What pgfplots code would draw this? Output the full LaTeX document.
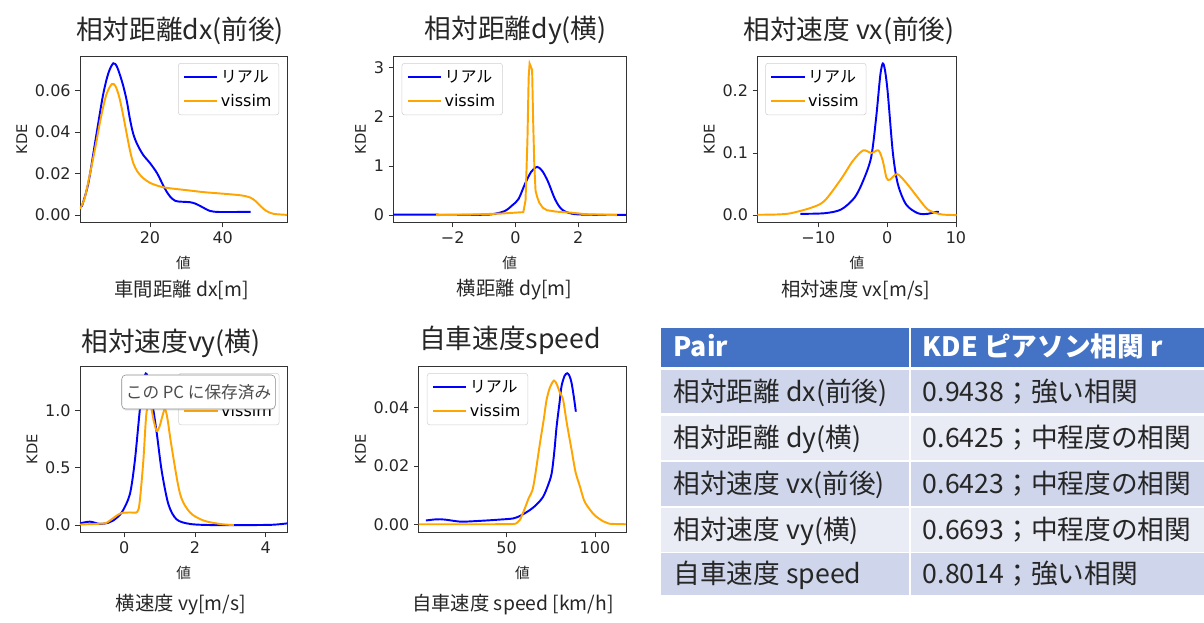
\documentclass[border=0pt]{standalone}
\usepackage{fontspec}
\setmainfont{DejaVu Sans}
\newfontfamily\jp{Noto Sans CJK JP}
\usepackage{pgfplots}
\pgfplotsset{compat=1.18}
\usetikzlibrary{shadows}
\definecolor{mplorange}{HTML}{FFA500}
\definecolor{mplblue}{HTML}{0000FF}
\definecolor{hdr}{HTML}{4472C4}
\definecolor{rowA}{HTML}{CFD5EA}
\definecolor{rowB}{HTML}{E9EBF5}
\definecolor{txt}{HTML}{262626}
\pgfplotsset{
  kde/.style={
    scale only axis, anchor=north west,
    axis line style={black!80, line width=0.6pt},
    tick align=outside, xtick pos=bottom, ytick pos=left,
    major tick length=3.5pt,
    scaled y ticks=false, scaled x ticks=false,
    every tick/.style={black!80, line width=0.6pt},
    ticklabel style={font=\fontsize{12}{14}\selectfont, text=txt},
    /pgf/number format/assume math mode=true,
    xlabel={\jp 値}, ylabel={KDE},
    label style={font=\fontsize{11}{13}\selectfont, text=txt},
    xlabel style={yshift=-2pt},
    ylabel style={yshift=-1pt},
    legend style={font=\fontsize{12}{14}\selectfont, draw=black!18, rounded corners=2pt,
      fill=white, fill opacity=0.8, text opacity=1, inner xsep=3.5pt, inner ysep=3pt,
      row sep=3.5pt},
    legend cell align=left,
    legend image code/.code={\draw[##1] (0pt,0pt) -- (25pt,0pt);},
  },
  bl/.style={mplblue, line width=1.45pt, no markers, smooth, tension=0.5},
  or/.style={mplorange, line width=1.45pt, no markers, smooth, tension=0.5},
}
\begin{document}
\begin{tikzpicture}
\path[use as bounding box] (0pt,0pt) rectangle (903pt,-466.5pt);

% ---------- Plot 1: dx
\begin{axis}[kde, at={(60pt,-42pt)}, width=155.25pt, height=125pt,
  xmin=0.74, xmax=57.7, ymin=-0.00365, ymax=0.0765,
  xtick={20,40}, xticklabels={20,40},
  ytick={0,0.02,0.04,0.06}, yticklabels={0.00,0.02,0.04,0.06},
  legend style={at={(0.962,0.958)}, anchor=north east}]
\addplot[bl] coordinates {(1.2,0.004)(3,0.015)(5,0.036)(7,0.057)(8.5,0.068)(9.9,0.073)(11,0.071)(12.5,0.063)(13.6,0.055)(14.5,0.046)(15.4,0.039)(16.5,0.034)(18.1,0.029)(20,0.025)(22,0.020)(24,0.013)(25.5,0.009)(27,0.0068)(29,0.0064)(31,0.0062)(32.5,0.0055)(34,0.0042)(36.5,0.002)(39,0.0015)(44,0.0015)(47.7,0.0015)};
\addlegendentry{\jp リアル}
\addplot[or] coordinates {(0.74,0.003)(2,0.008)(3.5,0.02)(5,0.033)(6.5,0.047)(8,0.058)(9.5,0.063)(10.5,0.062)(11.5,0.057)(12.5,0.049)(13.6,0.039)(14.5,0.031)(15.4,0.025)(16.5,0.021)(18,0.018)(20,0.0155)(22.7,0.0138)(25,0.013)(30,0.012)(35,0.011)(40,0.0103)(45,0.0095)(47.5,0.0085)(49,0.0068)(50.5,0.0042)(52,0.002)(54,0.0006)(57.7,0.0001)};
\addlegendentry{vissim}
\end{axis}

% ---------- Plot 2: dy
\begin{axis}[kde, at={(295pt,-42pt)}, width=174.5pt, height=125pt,
  xmin=-3.89, xmax=3.52, ymin=-0.154, ymax=3.234,
  xtick={-2,0,2}, xticklabels={−2,0,2},
  ytick={0,1,2,3}, yticklabels={0,1,2,3},
  legend style={at={(0.036,0.958)}, anchor=north west}]
\addplot[bl] coordinates {(-3.89,0.01)(-3,0.01)(-2,0.006)(-1.2,0.006)(-0.77,0.015)(-0.35,0.08)(-0.1,0.2)(0.1,0.33)(0.3,0.63)(0.5,0.88)(0.69,0.98)(0.85,0.9)(1.03,0.69)(1.24,0.35)(1.4,0.17)(1.56,0.08)(1.88,0.02)(2.5,0.006)(3.52,0.006)};
\addlegendentry{\jp リアル}
\addplot[mplorange, line width=1.45pt, no markers] coordinates {(-2.53,0.0)(-1.5,0.01)(-1,0.02)(-0.5,0.03)(0,0.05)(0.25,0.06)(0.32,0.3)(0.38,1.5)(0.42,2.8)(0.45,3.08)(0.5,3.0)(0.53,2.95)(0.56,2.0)(0.6,1.0)(0.64,0.49)(0.7,0.35)(0.76,0.25)(0.87,0.15)(1.0,0.1)(1.3,0.07)(1.77,0.05)(2.2,0.02)(2.7,0.01)(3.24,0.0)};
\addlegendentry{vissim}
\end{axis}

% ---------- Plot 3: vx
\begin{axis}[kde, at={(568pt,-42pt)}, width=149.5pt, height=125pt,
  xmin=-18.87, xmax=10.1, ymin=-0.0122, ymax=0.256,
  xtick={-10,0,10}, xticklabels={−10,0,10},
  ytick={0,0.1,0.2}, yticklabels={0.0,0.1,0.2},
  legend style={at={(0.04,0.958)}, anchor=north west}]
\addplot[bl] coordinates {(-12.6,0.002)(-9.1,0.003)(-6.7,0.009)(-4.75,0.028)(-3.5,0.055)(-2.33,0.093)(-1.6,0.157)(-1.0,0.225)(-0.63,0.244)(-0.3,0.232)(0.1,0.195)(0.83,0.10)(1.55,0.05)(2.76,0.017)(4.46,0.003)(5.9,0.002)(7,0.005)(7.5,0.005)};
\addlegendentry{\jp リアル}
\addplot[or] coordinates {(-18.87,0.0005)(-16,0.001)(-14,0.003)(-11,0.012)(-9.1,0.023)(-6.7,0.058)(-5,0.087)(-3.5,0.104)(-2.3,0.1)(-1.26,0.104)(-0.63,0.087)(-0.1,0.06)(0.4,0.057)(1.45,0.066)(2.76,0.052)(4.46,0.028)(5.9,0.009)(7.5,0.002)(8.5,0.0005)(10.1,0.0)};
\addlegendentry{vissim}
\end{axis}

% ---------- Plot 4: vy
\begin{axis}[kde, at={(60pt,-274.5pt)}, width=155.5pt, height=125pt,
  xmin=-1.25, xmax=4.61, ymin=-0.066, ymax=1.385,
  xtick={0,2,4}, xticklabels={0,2,4},
  ytick={0,0.5,1}, yticklabels={0.0,0.5,1.0},
  legend style={at={(0.962,0.958)}, anchor=north east}]
\addplot[bl] coordinates {(-1.25,0.015)(-0.97,0.03)(-0.69,0.01)(-0.45,0.02)(-0.31,0.04)(-0.07,0.11)(0.16,0.27)(0.30,0.56)(0.44,1.0)(0.53,1.22)(0.61,1.32)(0.7,1.25)(0.8,1.05)(0.92,0.8)(1.06,0.47)(1.25,0.18)(1.48,0.05)(1.86,0.01)(2.5,0.0)(3.5,0.0)(4.2,0.003)(4.61,0.015)};
\addlegendentry{\jp リアル}
\addplot[or] coordinates {(-1.25,0.005)(-0.69,0.012)(-0.5,0.02)(-0.12,0.1)(0.16,0.11)(0.37,0.115)(0.44,0.21)(0.54,0.56)(0.63,0.98)(0.74,1.04)(0.84,0.9)(0.92,0.82)(1.0,0.86)(1.08,0.95)(1.15,1.01)(1.22,0.93)(1.34,0.68)(1.58,0.27)(1.86,0.11)(2.24,0.04)(2.7,0.01)(3.1,0.0)};
\addlegendentry{vissim}
\end{axis}

% ---------- Plot 5: speed
\begin{axis}[kde, at={(314pt,-274.5pt)}, width=155.5pt, height=125pt,
  xmin=0.17, xmax=117.6, ymin=-0.0029, ymax=0.0544,
  xtick={50,100}, xticklabels={50,100},
  ytick={0,0.02,0.04}, yticklabels={0.00,0.02,0.04},
  legend style={at={(0.04,0.958)}, anchor=north west}]
\addplot[bl] coordinates {(4.3,0.0013)(10.4,0.0017)(15,0.0016)(23.6,0.0009)(30,0.0010)(38.7,0.0013)(46,0.0016)(53.7,0.002)(58,0.003)(63.2,0.0049)(67,0.0068)(70.7,0.0095)(73.5,0.0135)(75.5,0.0175)(77,0.025)(78.3,0.0336)(80,0.042)(81.1,0.0475)(82.8,0.051)(84.3,0.0519)(85.6,0.051)(86.8,0.0485)(88,0.044)(89.2,0.0387)};
\addlegendentry{\jp リアル}
\addplot[or] coordinates {(0.17,0.0)(20,0.0)(40,0.0)(53.7,0.0001)(56,0.0006)(57.5,0.0015)(60,0.005)(62.5,0.009)(65.1,0.013)(68.9,0.028)(71,0.036)(72.6,0.0427)(74.5,0.047)(76.8,0.0494)(78.5,0.048)(80,0.0455)(82,0.0427)(84,0.035)(86.8,0.0255)(89,0.018)(91.5,0.013)(94,0.008)(97.2,0.005)(100,0.003)(104.7,0.001)(108,0.0002)(117.6,0.0)};
\addlegendentry{vissim}
\end{axis}

% ---------- titles
\begin{scope}[every node/.style={font=\jp\fontsize{20}{23}\selectfont, text=txt}]
\node at (135pt,-23pt) {相対距離dx(前後)};
\node at (386.8pt,-23pt) {相対距離dy(横)};
\node at (636.75pt,-23pt) {相対速度 vx(前後)};
\node at (128.25pt,-257.5pt) {相対速度vy(横)};
\node at (382.5pt,-255.5pt) {自車速度speed};
\end{scope}
\begin{scope}[every node/.style={font=\jp\fontsize{14.5}{17}\selectfont, text=txt}]
\node at (136.3pt,-217.5pt) {車間距離 dx[m]};
\node at (385.9pt,-217.5pt) {横距離 dy[m]};
\node at (641.8pt,-217.5pt) {相対速度 vx[m/s]};
\node at (135.75pt,-453.75pt) {横速度 vy[m/s]};
\node at (384.75pt,-453.75pt) {自車速度 speed [km/h]};
\end{scope}

% ---------- tooltip
\node[draw=black!45, fill=white, rounded corners=3pt,
  drop shadow={opacity=0.18, shadow xshift=0pt, shadow yshift=-1.2pt},
  minimum width=115.2pt, minimum height=25.5pt, inner sep=0pt,
  font=\jp\fontsize{12.5}{14}\selectfont, text=black!70]
  at (148.9pt,-294pt) {この PC に保存済み};

% ---------- table
\fill[hdr] (495.75pt,-246.2pt) rectangle (681.4pt,-275pt);
\fill[hdr] (682.9pt,-246.2pt) rectangle (903pt,-275pt);
\foreach \ya/\yb/\c in {-277.5/-310/rowA, -312/-345/rowB, -346.3/-379.3/rowA, -380.8/-413.8/rowB, -415/-446.25/rowA}{
  \fill[\c] (495.75pt,\ya pt) rectangle (681.4pt,\yb pt);
  \fill[\c] (682.9pt,\ya pt) rectangle (903pt,\yb pt);
}
\begin{scope}[every node/.style={font=\jp\fontsize{20}{24}\selectfont, text=txt, anchor=base west, inner sep=0pt}]
\node[text=white, font=\jp\bfseries\fontsize{20}{24}\selectfont] at (505pt,-267.6pt) {Pair};
\node[text=white, font=\jp\bfseries\fontsize{20}{24}\selectfont] at (692pt,-267.6pt) {KDE ピアソン相関 r};
\node at (505pt,-300.9pt) {相対距離 dx(前後)};
\node at (692pt,-300.9pt) {0.9438；強い相関};
\node at (505pt,-335.6pt) {相対距離 dy(横)};
\node at (692pt,-335.6pt) {0.6425；中程度の相関};
\node at (505pt,-369.9pt) {相対速度 vx(前後)};
\node at (692pt,-369.9pt) {0.6423；中程度の相関};
\node at (505pt,-404.4pt) {相対速度 vy(横)};
\node at (692pt,-404.4pt) {0.6693；中程度の相関};
\node at (505pt,-437.7pt) {自車速度 speed};
\node at (692pt,-437.7pt) {0.8014；強い相関};
\end{scope}
\end{tikzpicture}
\end{document}
